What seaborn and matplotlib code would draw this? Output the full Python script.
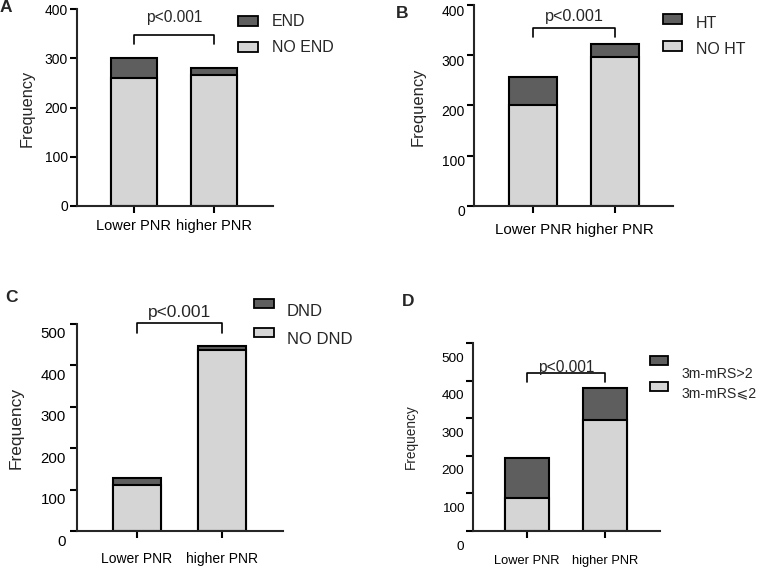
import numpy as np
import pandas as pd
import seaborn as sns
import matplotlib.pyplot as plt
from matplotlib.patches import Rectangle
from matplotlib.transforms import ScaledTranslation

# data
groups = ["Lower PNR", "higher PNR"]

end_no = [260, 266]
end_yes = [40, 14]

ht_no = [200, 297]
ht_yes = [57, 26]

dnd_no = [111, 438]
dnd_yes = [18, 10]

mrs_low = [88, 295]
mrs_high = [107, 85]

DARK = "#5e5e5e"
LIGHT = "#d5d5d5"
W, H = 760, 571


def fx(px):
    return px / W


def fy(py):
    return 1 - py / H


def px_rect(l, t, r, b):
    return [l / W, 1 - b / H, (r - l) / W, (b - t) / H]


sns.set_theme(style="ticks")
plt.rcParams['font.family'] = ['Liberation Sans', 'DejaVu Sans']
plt.rcParams['axes.linewidth'] = 1.5

fig = plt.figure(figsize=(7.6, 5.71), dpi=100)

panels = [
    dict(letter="A", no=end_no, yes=end_yes, labels=("END", "NO END"),
         rect=(77, 9.3, 273, 206), ymax=400, xlim=(-0.7125, 1.7375),
         br=(329, 348), ptxt=384, p_fs=11.2,
         xpad=4.3, xfs=10.5, ypad=1.5, yfs=10, yshift=0,
         ylab=(27, 108), ylab_fs=11.7, let=(6, 8),
         key_x=238, key_w=20, key_y=(21, 47), txt_x=272, txt_y=(21, 47), key_fs=11.5),
    dict(letter="B", no=ht_no, yes=ht_yes, labels=("HT", "NO HT"),
         rect=(474, 5, 673, 206), ymax=400, xlim=(-0.72, 1.707),
         br=(337, 355), ptxt=377, p_fs=11.7,
         xpad=7, xfs=10.8, ypad=1.5, yfs=10, yshift=5,
         ylab=(418, 107), ylab_fs=11.9, let=(402, 13),
         key_x=663, key_w=19, key_y=(19, 46), txt_x=696, txt_y=(23, 50), key_fs=11.5),
    dict(letter="C", no=dnd_no, yes=dnd_yes, labels=("DND", "NO DND"),
         rect=(77, 324, 283, 531), ymax=500, xlim=(-0.706, 1.718),
         br=(478, 502), ptxt=527, p_fs=12.5,
         xpad=10, xfs=10, ypad=3, yfs=10.8, yshift=9,
         ylab=(16, 428), ylab_fs=12.5, let=(11, 297),
         key_x=254, key_w=20, key_y=(303, 332), txt_x=287, txt_y=(312, 340), key_fs=12),
    dict(letter="D", no=mrs_low, yes=mrs_high, labels=("3m-mRS>2", "3m-mRS⩽2"),
         rect=(472.7, 343, 660, 531), ymax=500, xlim=(-0.696, 1.705),
         br=(396, 420), ptxt=436, p_fs=11.2,
         xpad=12.6, xfs=9.3, ypad=1, yfs=9.7, yshift=14,
         ylab=(411, 437), ylab_fs=9.8, let=(408, 301),
         key_x=650, key_w=18, key_y=(360, 386), txt_x=682, txt_y=(374, 393), key_fs=10.2),
]

for p in panels:
    ax = fig.add_axes(px_rect(*p["rect"]))
    df = pd.DataFrame({"group": groups,
                       "total": np.add(p["no"], p["yes"]),
                       "base": p["no"]})
    sns.barplot(data=df, x="group", y="total", color=DARK, saturation=1,
                width=0.575, edgecolor="black", linewidth=1.5, ax=ax)
    sns.barplot(data=df, x="group", y="base", color=LIGHT, saturation=1,
                width=0.575, edgecolor="black", linewidth=1.5, ax=ax)
    ax.set_xlim(*p["xlim"])
    ax.set_ylim(0, p["ymax"])
    ax.set_yticks(np.arange(0, p["ymax"] + 1, 100))
    ax.set_xlabel("")
    sns.despine(ax=ax)
    ax.tick_params(axis="both", length=5, width=1.5, color="black", labelcolor="black")
    ax.tick_params(axis="x", pad=p["xpad"], labelsize=p["xfs"])
    ax.tick_params(axis="y", pad=p["ypad"], labelsize=p["yfs"])
    if p["yshift"]:
        off = ScaledTranslation(0, -p["yshift"] / 100, fig.dpi_scale_trans)
        for lab in ax.get_yticklabels():
            lab.set_transform(lab.get_transform() + off)

    ax.set_ylabel("Frequency", fontsize=p["ylab_fs"], va="center")
    ax.yaxis.set_label_coords(fx(p["ylab"][0]), fy(p["ylab"][1]), transform=fig.transFigure)

    # significance bracket
    lo, hi = p["br"]
    ax.plot([0, 0, 1, 1], [lo, hi, hi, lo], color="black", lw=1.2, clip_on=False)
    ax.text(0.5, p["ptxt"], "p<0.001", ha="center", va="center", fontsize=p["p_fs"])

    fig.text(fx(p["let"][0]), fy(p["let"][1]), p["letter"], ha="center", va="center",
             fontsize=12.5, fontweight="bold")

    # legend keys
    for col, lab, ky, ty in zip([DARK, LIGHT], p["labels"], p["key_y"], p["txt_y"]):
        kh = 9
        fig.add_artist(Rectangle((fx(p["key_x"]), fy(ky + kh / 2)), p["key_w"] / W, kh / H,
                                 transform=fig.transFigure, facecolor=col,
                                 edgecolor="black", lw=1.3))
        fig.text(fx(p["txt_x"]), fy(ty), lab, ha="left", va="center", fontsize=p["key_fs"])

fig.savefig("out.png", dpi=100)
